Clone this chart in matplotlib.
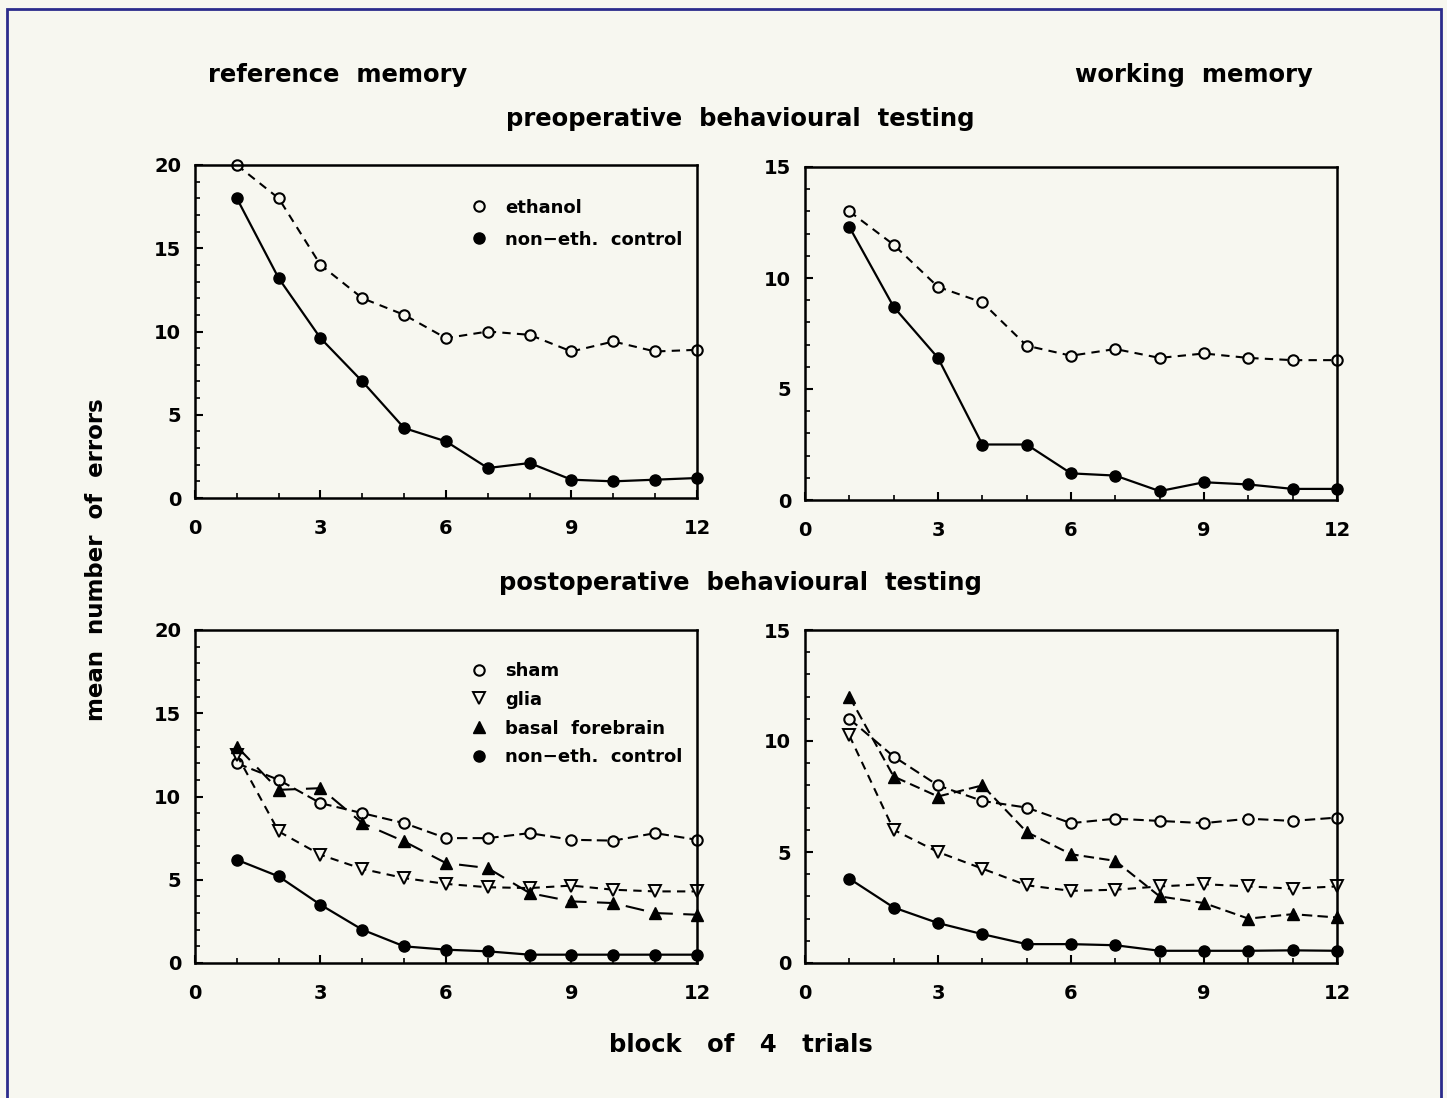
import matplotlib
matplotlib.use("Agg")
import matplotlib.pyplot as plt
from matplotlib.lines import Line2D
from matplotlib.patches import Rectangle
from matplotlib.ticker import MultipleLocator

blocks = list(range(1, 13))

# preoperative, reference memory
pre_ref_ethanol = [20, 18, 14, 12, 11, 9.6, 10, 9.8, 8.8, 9.4, 8.8, 8.9]
pre_ref_control = [18, 13.2, 9.6, 7.0, 4.2, 3.4, 1.8, 2.1, 1.1, 1.0, 1.1, 1.2]

# preoperative, working memory
pre_work_ethanol = [13.0, 11.5, 9.6, 8.9, 6.95, 6.5, 6.8, 6.4, 6.6, 6.4, 6.3, 6.3]
pre_work_control = [12.3, 8.7, 6.4, 2.5, 2.5, 1.2, 1.1, 0.4, 0.8, 0.7, 0.5, 0.5]

# postoperative, reference memory
post_ref_sham = [12.0, 11.0, 9.6, 9.0, 8.4, 7.5, 7.5, 7.8, 7.4, 7.35, 7.8, 7.4]
post_ref_glia = [12.5, 7.9, 6.5, 5.65, 5.1, 4.75, 4.55, 4.5, 4.65, 4.4, 4.3, 4.3]
post_ref_basal = [13.0, 10.4, 10.5, 8.4, 7.3, 6.0, 5.7, 4.2, 3.7, 3.6, 3.0, 2.9]
post_ref_control = [6.2, 5.2, 3.5, 2.0, 1.0, 0.8, 0.7, 0.5, 0.5, 0.5, 0.5, 0.5]

# postoperative, working memory
post_work_sham = [11.0, 9.3, 8.0, 7.3, 7.0, 6.3, 6.5, 6.4, 6.3, 6.5, 6.4, 6.55]
post_work_glia = [10.25, 6.0, 5.0, 4.25, 3.5, 3.25, 3.3, 3.45, 3.55, 3.45, 3.35, 3.45]
post_work_basal = [12.0, 8.4, 7.5, 8.0, 5.9, 4.9, 4.6, 3.0, 2.7, 2.0, 2.2, 2.05]
post_work_control = [3.8, 2.5, 1.8, 1.3, 0.85, 0.85, 0.8, 0.55, 0.55, 0.55, 0.57, 0.55]

W, H = 1447, 1098
BG = "#f7f7f0"
FONT = "DejaVu Sans"

fig = plt.figure(figsize=(W / 100, H / 100), dpi=100, facecolor=BG)


def px_axes(left, top, right, bottom):
    return fig.add_axes([left / W, 1 - bottom / H, (right - left) / W, (bottom - top) / H])


def style_axes(ax, ymax, ystep):
    ax.set_facecolor("none")
    ax.set_xlim(0, 12)
    ax.set_ylim(0, ymax)
    ax.xaxis.set_major_locator(MultipleLocator(3))
    ax.xaxis.set_minor_locator(MultipleLocator(1))
    ax.yaxis.set_major_locator(MultipleLocator(ystep))
    ax.yaxis.set_minor_locator(MultipleLocator(1))
    ax.tick_params(which="major", direction="in", length=6, width=1.5, pad=10)
    ax.tick_params(which="minor", direction="in", length=3.5, width=1.2)
    ax.tick_params(axis="x", which="major", pad=15)
    for spine in ax.spines.values():
        spine.set_linewidth(1.8)
    for lab in ax.get_xticklabels() + ax.get_yticklabels():
        lab.set_fontweight("bold")
        lab.set_fontsize(14)
        lab.set_family(FONT)


dash_short = (0, (4, 3))
dash_mid = (0, (5, 2.5))
dash_long = (0, (9, 5))

open_circle = dict(marker="o", markersize=7.5, markerfacecolor=BG, markeredgecolor="black",
                   markeredgewidth=1.5, color="black", linewidth=1.5)
filled_circle = dict(marker="o", markersize=8, markerfacecolor="black", markeredgecolor="black",
                     color="black", linewidth=1.6)
open_tri = dict(marker="v", markersize=8.5, markerfacecolor=BG, markeredgecolor="black",
                markeredgewidth=1.4, color="black", linewidth=1.5)
filled_tri = dict(marker="^", markersize=9, markerfacecolor="black", markeredgecolor="black",
                  color="black", linewidth=1.5)

# top-left: reference memory, preoperative
ax1 = px_axes(195, 165, 697, 498)
ax1.plot(blocks, pre_ref_ethanol, linestyle=dash_short, clip_on=False, **open_circle)
ax1.plot(blocks, pre_ref_control, linestyle="-", clip_on=False, **filled_circle)
style_axes(ax1, 20, 5)

leg_font = dict(family=FONT, weight="bold", size=13)
h1 = [Line2D([], [], linestyle="none", marker="o", markersize=7.5, markerfacecolor=BG,
             markeredgecolor="black", markeredgewidth=1.5),
      Line2D([], [], linestyle="none", marker="o", markersize=8, markerfacecolor="black",
             markeredgecolor="black")]
ax1.legend(h1, ["ethanol", "non\u2212eth.  control"], loc="upper left",
           bbox_to_anchor=(0.515, 0.948), frameon=False, prop=leg_font,
           handlelength=1.0, handletextpad=0.95, labelspacing=0.78)

# top-right: working memory, preoperative
ax2 = px_axes(805, 167, 1337, 500)
ax2.plot(blocks, pre_work_ethanol, linestyle=dash_short, clip_on=False, **open_circle)
ax2.plot(blocks, pre_work_control, linestyle="-", clip_on=False, **filled_circle)
style_axes(ax2, 15, 5)

# bottom-left: reference memory, postoperative
ax3 = px_axes(195, 630, 697, 963)
ax3.plot(blocks, post_ref_sham, linestyle=dash_mid, clip_on=False, **open_circle)
ax3.plot(blocks, post_ref_glia, linestyle=dash_short, clip_on=False, **open_tri)
ax3.plot(blocks, post_ref_basal, linestyle=dash_long, clip_on=False, **filled_tri)
ax3.plot(blocks, post_ref_control, linestyle="-", clip_on=False, **filled_circle)
style_axes(ax3, 20, 5)

h3 = [Line2D([], [], linestyle="none", marker="o", markersize=7.5, markerfacecolor=BG,
             markeredgecolor="black", markeredgewidth=1.5),
      Line2D([], [], linestyle="none", marker="v", markersize=8.5, markerfacecolor=BG,
             markeredgecolor="black", markeredgewidth=1.4),
      Line2D([], [], linestyle="none", marker="^", markersize=9, markerfacecolor="black",
             markeredgecolor="black"),
      Line2D([], [], linestyle="none", marker="o", markersize=8, markerfacecolor="black",
             markeredgecolor="black")]
ax3.legend(h3, ["sham", "glia", "basal  forebrain", "non\u2212eth.  control"], loc="upper left",
           bbox_to_anchor=(0.515, 0.953), frameon=False, prop=leg_font,
           handlelength=1.0, handletextpad=0.95, labelspacing=0.6)

# bottom-right: working memory, postoperative
ax4 = px_axes(805, 630, 1337, 963)
ax4.plot(blocks, post_work_sham, linestyle=dash_mid, clip_on=False, **open_circle)
ax4.plot(blocks, post_work_glia, linestyle=dash_short, clip_on=False, **open_tri)
ax4.plot(blocks, post_work_basal, linestyle=dash_mid, clip_on=False, **filled_tri)
ax4.plot(blocks, post_work_control, linestyle="-", clip_on=False, **filled_circle)
style_axes(ax4, 15, 5)

# headings and axis titles
title_font = dict(family=FONT, weight="bold", size=17.5)
fig.text(338 / W, 1 - 75 / H, "reference  memory", ha="center", va="center", **title_font)
fig.text(1194 / W, 1 - 75 / H, "working  memory", ha="center", va="center", **title_font)
fig.text(740 / W, 1 - 119 / H, "preoperative  behavioural  testing", ha="center", va="center", **title_font)
fig.text(740 / W, 1 - 583 / H, "postoperative  behavioural  testing", ha="center", va="center", **title_font)
fig.text(97 / W, 1 - 560 / H, "mean  number  of  errors", ha="center", va="center",
         rotation=90, family=FONT, weight="bold", size=16.5)
fig.text(741 / W, 1 - 1045 / H, "block   of   4   trials", ha="center", va="center", **title_font)

# page border
fig.patches.append(Rectangle((7 / W, -0.02), (1441 - 7) / W, 1.02 - 9 / H,
                             transform=fig.transFigure, fill=False,
                             edgecolor="#2b2b8c", linewidth=2))

fig.savefig("out.png", dpi=100, facecolor=BG)
